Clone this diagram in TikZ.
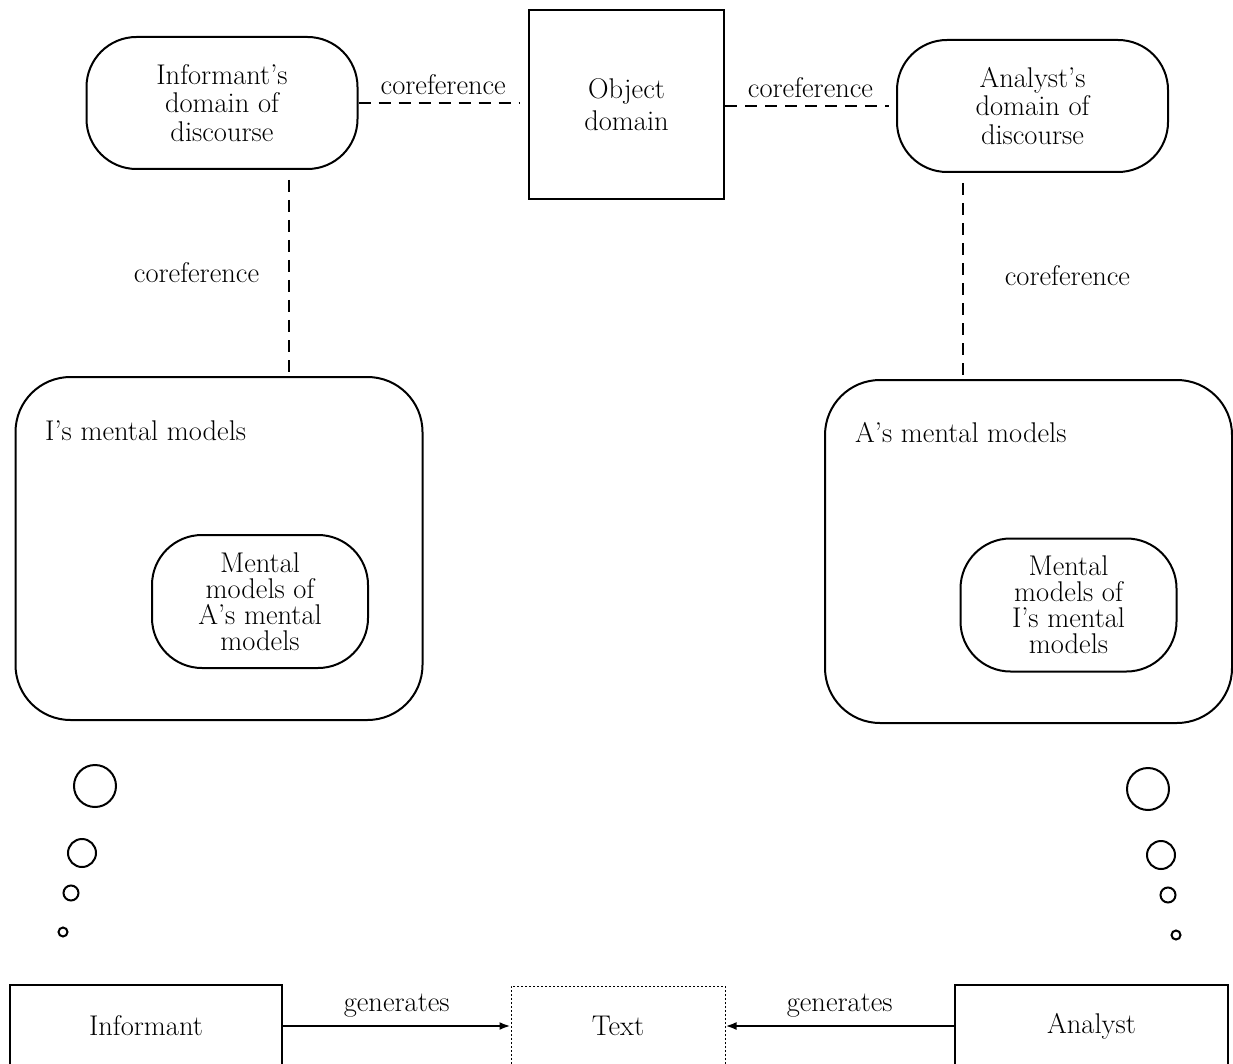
\documentclass[tikz,border=0pt]{standalone}
\usepackage{fontspec}
\usetikzlibrary{arrows.meta}

\tikzset{
  txtfont/.style={font=\fontsize{28.5}{26}\selectfont},
  frame/.style={draw, line width=2pt, rectangle, inner sep=0pt, align=center, txtfont},
  domainbox/.style={frame, rounded corners=50pt, minimum width=271pt, minimum height=132pt,
                    font=\fontsize{28.5}{28.5}\selectfont},
  bigbox/.style={frame, rounded corners=55pt, minimum width=407pt, minimum height=343pt},
  innerbox/.style={frame, rounded corners=50pt, minimum width=216pt, minimum height=133pt},
  agentbox/.style={frame, minimum width=272pt, minimum height=82pt},
  textbox/.style={draw, line width=1pt, dash pattern=on 2pt off 2pt, rectangle, inner sep=0pt,
                  minimum width=214pt, minimum height=80pt, txtfont},
  coref/.style={line width=1.8pt, dash pattern=on 12pt off 8pt},
  gen/.style={line width=2.4pt, -{Latex[length=11pt, width=8pt]}},
  lbl/.style={txtfont, inner sep=4pt},
  boxtitle/.style={txtfont, inner sep=0pt, anchor=base west},
  bubble/.style={draw, circle, line width=2pt, inner sep=0pt},
}

\begin{document}
\begin{tikzpicture}[x=1pt, y=-1pt]
\useasboundingbox (0,0) rectangle (1233,1064);
\clip (0,0) rectangle (1233,1064);

% upper row: domains of discourse and object domain
\node[domainbox] (idd) at (222,103) {Informant’s\\domain of\\discourse};
\node[frame, minimum width=195pt, minimum height=189pt,
      font=\fontsize{28.5}{32}\selectfont] (obj) at (626.5,104.5) {Object\\domain};
\node[domainbox] (add) at (1032.5,106) {Analyst’s\\domain of\\discourse};

% mental models
\node[bigbox] (imm) at (219,548.5) {};
\node[boxtitle] (immt) at (45,440) {I’s mental models};
\node[innerbox] (iin) at (260,601.5) {Mental\\models of\\A’s mental\\models};

\node[bigbox] (amm) at (1028.5,551.5) {};
\node[boxtitle] (ammt) at (855,442) {A’s mental models};
\node[innerbox] (ain) at (1068.5,605) {Mental\\models of\\I’s mental\\models};

% thought bubbles
\node[bubble, minimum size=42pt] (ib1) at (95,786) {};
\node[bubble, minimum size=28pt] (ib2) at (82,853) {};
\node[bubble, minimum size=15pt] (ib3) at (71,893) {};
\node[bubble, minimum size=9pt]  (ib4) at (63,932) {};

\node[bubble, minimum size=42pt] (ab1) at (1148,789) {};
\node[bubble, minimum size=28pt] (ab2) at (1161,855) {};
\node[bubble, minimum size=15pt] (ab3) at (1168,895) {};
\node[bubble, minimum size=9pt]  (ab4) at (1176,935) {};

% bottom row
\node[agentbox] (inf) at (146,1026) {Informant};
\node[textbox] (txt) at (618,1026) {Text};
\node[agentbox, minimum width=273pt] (ana) at (1091.5,1026) {Analyst};

% coreference links
\draw[coref, shorten >=8pt] (idd.east) -- (idd.east -| obj.west)
  node[lbl, midway, above=3pt] {coreference};
\draw[coref, shorten >=7pt] (obj.east |- add.west) -- (add.west)
  node[lbl, midway, above=3pt] {coreference};

\coordinate (lx) at (289,0);
\coordinate (rx) at (963,0);
\draw[coref, shorten <=10pt] (idd.south -| lx) -- (imm.north -| lx)
  node[lbl, midway, left=25pt] {coreference};
\draw[coref, shorten <=10pt] (add.south -| rx) -- (amm.north -| rx)
  node[lbl, midway, right=37pt] {coreference};

% generation arrows
\draw[gen] (inf.east) -- (txt.west) node[lbl, midway, above=3pt] {generates};
\draw[gen] (ana.west) -- (txt.east) node[lbl, midway, above=3pt] {generates};

\end{tikzpicture}
\end{document}
